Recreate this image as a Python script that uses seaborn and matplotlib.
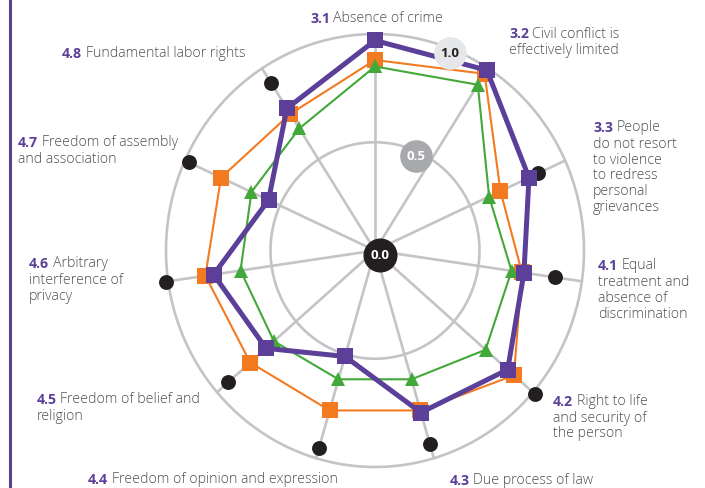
#Rule of law radar chart - factor scores per sub-indicator
import numpy as np
import matplotlib.pyplot as plt
import matplotlib.transforms as mtransforms
import seaborn as sns

codes = ["3.1", "3.2", "3.3", "4.1", "4.2", "4.3", "4.4", "4.5", "4.6", "4.7", "4.8"]
names = ["Absence of crime",
         "Civil conflict is\neffectively limited",
         "People\ndo not resort\nto violence\nto redress\npersonal\ngrievances",
         "Equal\ntreatment and\nabsence of\ndiscrimination",
         "Right to life\nand security of\nthe person",
         "Due process of law",
         "Freedom of opinion and expression",
         "Freedom of belief and\nreligion",
         "Arbitrary\ninterference of\nprivacy",
         "Freedom of assembly\nand association",
         "Fundamental labor rights"]

purple_vals = [0.97, 0.99, 0.81, 0.72, 0.84, 0.78, 0.51, 0.69, 0.78, 0.56, 0.78]
orange_vals = [0.88, 0.97, 0.66, 0.71, 0.88, 0.77, 0.77, 0.79, 0.82, 0.81, 0.75]
green_vals = [0.85, 0.91, 0.60, 0.66, 0.70, 0.62, 0.62, 0.64, 0.65, 0.65, 0.67]
black_vals = [0.975, 0.99, 0.86, 0.87, 1.01, 0.93, 0.95, 0.93, 1.01, 0.98, 0.92]
ring_vals = [0.5, 1.0]
ring_labels = ["0.5", "1.0"]

PURPLE = "#5b3f99"
ORANGE = "#f37a20"
GREEN = "#43a83a"
BLACK = "#231f20"
GRID = "#c4c4c7"
TXT = "#4f5052"

sns.set_style("white")
plt.rcParams["font.family"] = ["Open Sans", "DejaVu Sans"]

W, H = 705, 489
fig = plt.figure(figsize=(W / 100, H / 100), dpi=100)

# polar axes placed in pixels, slightly elliptical like the original
cx, cy, rx, ry, rmax = 375, 251.5, 209, 216.5, 1.06
ax = fig.add_axes([(cx - rx * rmax) / W, (H - cy - ry * rmax) / H,
                   2 * rx * rmax / W, 2 * ry * rmax / H], projection="polar")
ax.set_aspect("auto")
ax.set_theta_zero_location("N")
ax.set_theta_direction(-1)
ax.set_ylim(0, rmax)
ax.axis("off")

n = len(codes)
theta = np.linspace(0, 2 * np.pi, n, endpoint=False)
th_c = list(theta) + [2 * np.pi]

# rings and spokes
circ = np.linspace(0, 2 * np.pi, 400)
for r in ring_vals:
    ax.plot(circ, np.full_like(circ, r), color=GRID, lw=1.9, zorder=1)
for t in theta:
    ax.plot([t, t], [0, 1.0], color=GRID, lw=1.9, zorder=1)

sns.scatterplot(x=theta, y=black_vals, color=BLACK, s=115, linewidth=0,
                ax=ax, zorder=2, clip_on=False, legend=False)

def closed(v):
    return list(v) + [v[0]]

sns.lineplot(x=th_c, y=closed(orange_vals), sort=False, estimator=None, color=ORANGE,
             lw=1.5, marker="s", markersize=11, markeredgewidth=0, ax=ax, zorder=3)
sns.lineplot(x=th_c, y=closed(green_vals), sort=False, estimator=None, color=GREEN,
             lw=1.5, marker="^", markersize=10.5, markeredgewidth=0, ax=ax, zorder=4)
sns.lineplot(x=th_c, y=closed(purple_vals), sort=False, estimator=None, color=PURPLE,
             lw=3.6, marker="s", markersize=11, markeredgewidth=0, ax=ax, zorder=5)

# value discs
def disc(t, r, txt, fc, tc, dx=0, dy=0, ms=23.5):
    tr = mtransforms.offset_copy(ax.transData, fig=fig, x=dx, y=dy, units="points")
    ax.plot([t], [r], "o", ms=ms, color=fc, mew=0, transform=tr, zorder=8, clip_on=False)
    ax.text(t, r, txt, transform=tr, ha="center", va="center", color=tc,
            fontsize=9.5, fontweight="bold", zorder=9)

disc(0, 0, "0.0", BLACK, "white", dx=3.6, dy=-3.2, ms=24.5)
disc(np.deg2rad(24), 0.48, ring_labels[0], "#a7a9ac", "white")
disc(np.deg2rad(21.4), 0.98, ring_labels[1], "#e6e7e8", BLACK)

# category labels (left x, first baseline in pixels)
lab_pos = [(310, 23), (509, 38.5), (593, 131.7), (598, 270), (553, 405.7), (450, 485),
           (88, 484.5), (37, 404), (29, 268), (18, 147), (62, 58.3)]
gap = 15.9
fs = 10.2
for code, name, (x, y) in zip(codes, names, lab_pos):
    lines = name.split("\n")
    num = fig.text(x / W, 1 - y / H, code, color=PURPLE, fontsize=fs,
                   fontweight="bold", va="baseline")
    ax.annotate(lines[0], xy=(1, 0), xycoords=num, xytext=(2.5, 0), textcoords="offset points",
                va="bottom", ha="left", color=TXT, fontsize=fs, fontweight="light",
                annotation_clip=False)
    for k, line in enumerate(lines[1:], start=1):
        fig.text(x / W, 1 - (y + k * gap) / H, line, color=TXT, fontsize=fs,
                 fontweight="light", va="baseline")

fig.add_artist(plt.Line2D([9.5 / W, 9.5 / W], [0, 1], color=PURPLE, lw=2.2))

fig.savefig("out.png", dpi=100)
